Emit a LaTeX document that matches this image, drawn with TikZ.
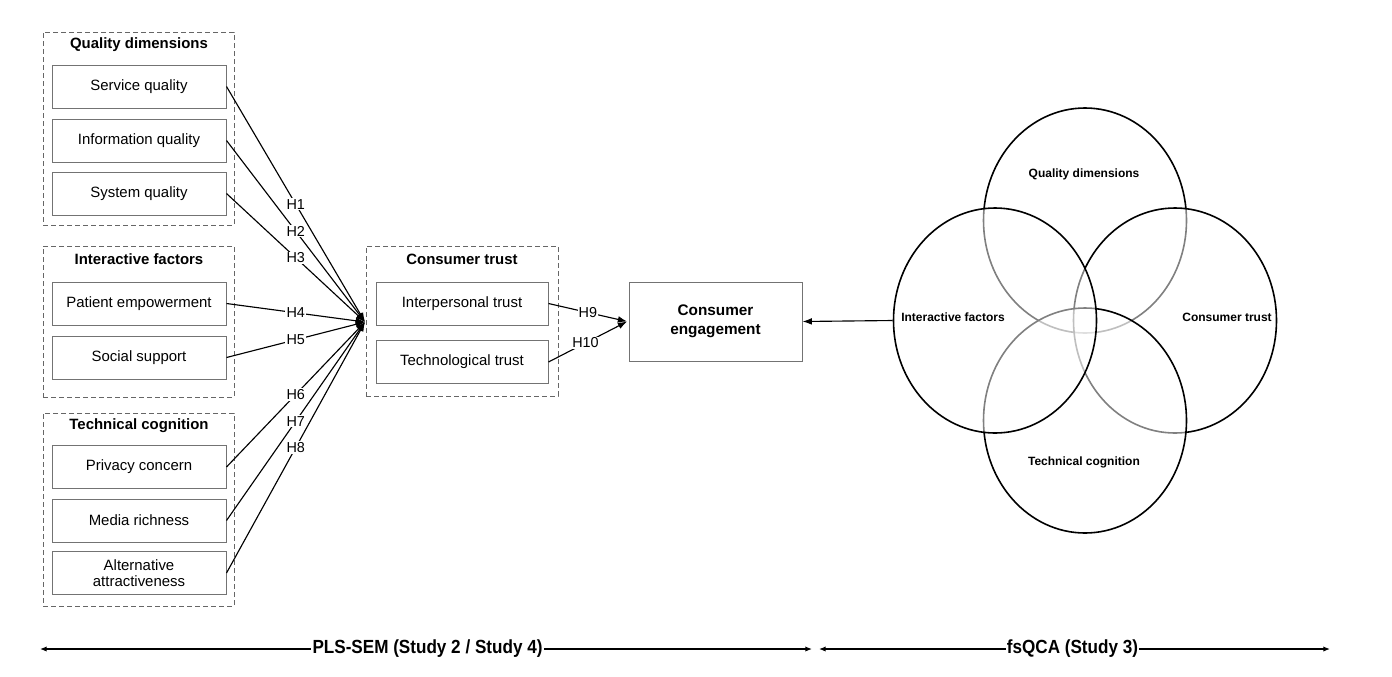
\documentclass[tikz,border=0pt]{standalone}
\usepackage{fontspec}
\setmainfont{Liberation Sans}
\usetikzlibrary{arrows.meta,shapes.geometric}

\begin{document}
\begin{tikzpicture}[x=0.75pt,y=-0.75pt,
    group_box/.style={draw=black!60,line width=0.7pt,dash pattern=on 3.5pt off 2.5pt,minimum width=143.25pt,inner sep=0pt},
    group_title/.style={font=\fontsize{11.2}{13}\selectfont\bfseries},
    item_node/.style={draw=black!55,line width=0.75pt,minimum width=130.5pt,minimum height=32.25pt,inner sep=0pt,align=center,font=\fontsize{11.2}{13}\selectfont},
    path_line/.style={line width=0.85pt,-{Latex[length=7pt,width=5pt]}},
    hyp_label/.style={fill=white,inner sep=0.8pt,font=\fontsize{10.8}{12}\selectfont},
    set_node/.style={ellipse,draw=black,line width=1.2pt,fill=white,fill opacity=0.5,minimum width=152.25pt,minimum height=168.75pt,inner sep=0pt},
    set_label/.style={font=\fontsize{9}{10}\selectfont\bfseries},
    study_label/.style={fill=white,inner sep=1pt}]
    \useasboundingbox (0,0) rectangle (1392,676);

    \node[group_box,minimum height=144.75pt] (g_quality) at (138.5,128.5) {};
    \node[group_box,minimum height=113.25pt] (g_inter) at (138.5,321.5) {};
    \node[group_box,minimum height=144.75pt] (g_tech) at (138.5,509.5) {};
    \node[group_box,minimum width=144pt,minimum height=112.5pt] (g_trust) at (462,321) {};

    \node[group_title] (t_quality) at (139,45) {Quality dimensions};
    \node[group_title] (t_inter) at (139,259) {Interactive factors};
    \node[group_title] (t_tech) at (139,426) {Technical cognition};
    \node[group_title] (t_trust) at (462,259) {Consumer trust};

    \node[item_node] (service) at (139,86.5) {Service quality};
    \node[item_node] (info) at (139,140.5) {Information quality};
    \node[item_node] (system) at (139,193.5) {System quality};
    \node[item_node] (patient) at (139,303.5) {Patient empowerment};
    \node[item_node] (social) at (139,357.5) {Social support};
    \node[item_node] (privacy) at (139,467) {Privacy concern};
    \node[item_node] (media) at (139,520.5) {Media richness};
    \node[item_node] (alter) at (139,573) {Alternative\\[-0.5pt]attractiveness};
    \node[item_node,minimum width=129pt] (interp) at (462,303.5) {Interpersonal trust};
    \node[item_node,minimum width=129pt] (techno) at (462,362) {Technological trust};

    \node[item_node,minimum width=129.75pt,minimum height=59.25pt,font=\fontsize{11.5}{14}\selectfont\bfseries] (engage) at (715.5,321.5) {Consumer\\engagement};

    \coordinate (hub) at (365,322);
    \foreach \src/\hyp in {service/H1,info/H2,system/H3,patient/H4,social/H5,privacy/H6,media/H7,alter/H8}
        \draw[path_line] (\src.east) -- node[hyp_label,pos=0.5] {\hyp} (hub);
    \draw[path_line] (interp.east) -- node[hyp_label,pos=0.5] {H9} ([xshift=-1]engage.west);
    \draw[path_line] (techno.east) -- node[hyp_label,pos=0.47] {H10} ([xshift=-1]engage.west);

    \node[set_node] (s_quality) at (1085,220.5) {};
    \node[set_node] (s_trust) at (1175,320.5) {};
    \node[set_node] (s_tech) at (1085,420.5) {};
    \node[set_node] (s_inter) at (995,320.5) {};
    \node[set_label] at (1084,174) {Quality dimensions};
    \node[set_label] at (953,317) {Interactive factors};
    \node[set_label] at (1227,317) {Consumer trust};
    \node[set_label] at (1084,462) {Technical cognition};
    \draw[path_line] (s_inter.west) -- (engage.east);

    \coordinate (pls_l) at (40,649);
    \coordinate (pls_r) at (812,649);
    \coordinate (qca_l) at (819,649);
    \coordinate (qca_r) at (1330,649);
    \draw[line width=0.9pt,{Latex[length=5pt,width=4pt]}-{Latex[length=5pt,width=4pt]}] (pls_l) -- (pls_r);
    \draw[line width=0.9pt,{Latex[length=5pt,width=4pt]}-{Latex[length=5pt,width=4pt]}] (qca_l) -- (qca_r);
    \node[study_label] (pls) at (427.5,649) {\scalebox{0.9}[1]{\fontsize{14.25}{16}\selectfont\bfseries PLS-SEM (Study 2 / Study 4)}};
    \node[study_label] (qca) at (1072.5,649) {\scalebox{0.9}[1]{\fontsize{14.25}{16}\selectfont\bfseries fsQCA (Study 3)}};
\end{tikzpicture}
\end{document}
